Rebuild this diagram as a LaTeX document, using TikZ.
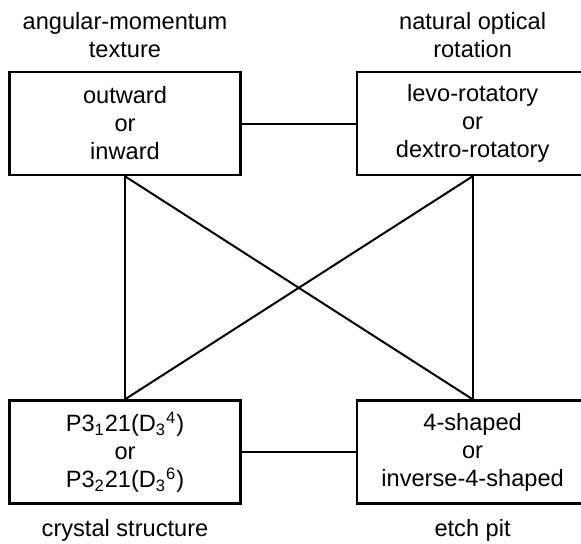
\documentclass[tikz,border=0pt]{standalone}
\usepackage{fontspec}
\setmainfont{Liberation Sans}
\usetikzlibrary{positioning}

\begin{document}
\begin{tikzpicture}[
node distance=111.5pt and 57pt,
box/.style={rectangle,draw=black,line width=1.3pt,minimum width=115.5pt,minimum height=51.5pt,align=center,inner sep=0pt,font=\fontsize{11.8pt}{14pt}\selectfont},
lbl/.style={align=center,inner sep=0pt,font=\fontsize{11.8pt}{14pt}\selectfont},
link/.style={line width=1pt,draw=black}
]
\useasboundingbox (-62.5pt,61.75pt) rectangle ++(290.5pt,-271.5pt);
\node[box] (tex) {outward\\or\\inward};
\node[box,right=of tex] (rot) {levo-rotatory\\or\\dextro-rotatory};
\node[box,below=of tex] (cry) {P3\textsubscript{1}21(D\textsubscript{3}\textsuperscript{4})\\or\\P3\textsubscript{2}21(D\textsubscript{3}\textsuperscript{6})};
\node[box,below=of rot] (pit) {4-shaped\\or\\inverse-4-shaped};
\node[lbl,above=6.5pt of tex] (texl) {angular-momentum\\texture};
\node[lbl,above=6.5pt of rot] (rotl) {natural optical\\rotation};
\node[lbl,below=7pt of cry] (cryl) {crystal structure};
\node[lbl,below=7pt of pit] (pitl) {etch pit};
\draw[link] (tex)--(rot);
\draw[link] (cry)--(pit);
\draw[link] (tex.south)--(cry.north); \draw[link] (rot.south)--(pit.north);
\draw[link] (tex.south)--(pit.north); \draw[link] (rot.south)--(cry.north);
\end{tikzpicture}
\end{document}
